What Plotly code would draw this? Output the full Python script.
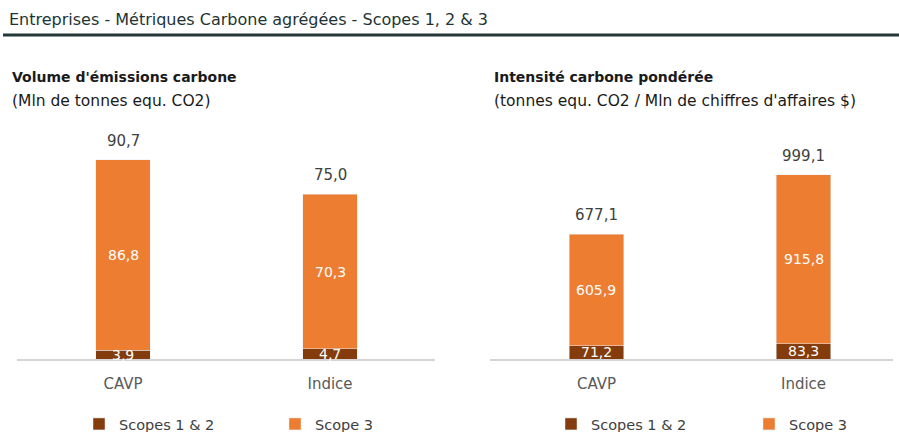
import plotly.graph_objects as go

# Aggregated carbon metrics, scopes 1, 2 & 3
categories = ["CAVP", "Indice"]

volume_scope12 = [3.9, 4.7]
volume_scope3 = [86.8, 70.3]
volume_total = [90.7, 75.0]

intensity_scope12 = [71.2, 83.3]
intensity_scope3 = [605.9, 915.8]
intensity_total = [677.1, 999.1]

ORANGE = "#ED7D31"
BROWN = "#843C0C"
W, H = 899, 432
FONT = "DejaVu Sans"


def py(px):
    """Pixel row (from top) to paper y."""
    return 1 - px / H


def px_x(px):
    return px / W


def fmt(v):
    return f"{v:.1f}".replace(".", ",")


fig = go.Figure()

panels = [
    ("x", "y", "legend", volume_scope12, volume_scope3, volume_total),
    ("x2", "y2", "legend2", intensity_scope12, intensity_scope3, intensity_total),
]

for xa, ya, leg, s12, s3, tot in panels:
    fig.add_trace(go.Bar(
        x=categories, y=s12, name="Scopes 1 & 2", marker_color=BROWN,
        width=0.265, xaxis=xa, yaxis=ya, legend=leg, hoverinfo="skip",
    ))
    fig.add_trace(go.Bar(
        x=categories, y=s3, name="Scope 3", marker_color=ORANGE,
        width=0.265, xaxis=xa, yaxis=ya, legend=leg, hoverinfo="skip",
    ))
    for c, a, b, t in zip(categories, s12, s3, tot):
        # scope 1 & 2 label inside the thin dark segment
        fig.add_annotation(x=c, y=a / 2, xref=xa, yref=ya, text=fmt(a),
                           showarrow=False, yanchor="middle",
                           font=dict(family=FONT, size=14, color="white"))
        # scope 3 label in the middle of the orange segment
        fig.add_annotation(x=c, y=a + b / 2, xref=xa, yref=ya, text=fmt(b),
                           showarrow=False, yanchor="middle",
                           font=dict(family=FONT, size=14, color="white"))
        # total above the bar
        fig.add_annotation(x=c, y=t, xref=xa, yref=ya, text=fmt(t),
                           showarrow=False, yanchor="bottom", yshift=8,
                           font=dict(family=FONT, size=15, color="#404040"))

y_dom = [py(359), py(120)]
axis_common = dict(
    showgrid=False, zeroline=False, showline=True, linecolor="#d4d4d4",
    linewidth=1.5, ticks="", ticklabelstandoff=10,
    tickfont=dict(family=FONT, size=15, color="#595959"),
    fixedrange=True,
)
yaxis_common = dict(showgrid=False, zeroline=False, showline=False,
                    showticklabels=False, fixedrange=True)
legend_common = dict(orientation="h", xanchor="left", yanchor="middle",
                     entrywidthmode="pixels", traceorder="normal",
                     itemclick=False, itemdoubleclick=False,
                     font=dict(family=FONT, size=14.5, color="#404040"),
                     bgcolor="rgba(0,0,0,0)")

fig.update_layout(
    width=W, height=H,
    margin=dict(l=0, r=0, t=0, b=0, autoexpand=False),
    paper_bgcolor="white", plot_bgcolor="white",
    barmode="stack", showlegend=True,
    xaxis=dict(domain=[px_x(17), px_x(435)], range=[-0.512, 1.507],
               anchor="y", **axis_common),
    yaxis=dict(domain=y_dom, range=[0, 239 / 2.195], anchor="x", **yaxis_common),
    xaxis2=dict(domain=[px_x(490), px_x(893)], range=[-0.514, 1.432],
                anchor="y2", **axis_common),
    yaxis2=dict(domain=y_dom, range=[0, 239 / 0.1845], anchor="x2", **yaxis_common),
    legend=dict(x=px_x(79), y=py(424), entrywidth=151, **legend_common),
    legend2=dict(x=px_x(551), y=py(424), entrywidth=153, **legend_common),
)

# Header and rule
fig.add_annotation(x=px_x(7), y=py(19), xref="paper", yref="paper",
                   text="Entreprises - Métriques Carbone agrégées - Scopes 1, 2 & 3",
                   showarrow=False, xanchor="left", yanchor="middle",
                   font=dict(family=FONT, size=16, color="#1e3434"))
fig.add_shape(type="line", xref="paper", yref="paper",
              x0=px_x(3), x1=1, y0=py(35), y1=py(35),
              line=dict(color="#243838", width=3))

# Panel titles
subtitles = [
    (10, "Volume d'émissions carbone", "(Mln de tonnes equ. CO2)"),
    (492, "Intensité carbone pondérée", "(tonnes equ. CO2 / Mln de chiffres d'affaires $)"),
]
for x0, t1, t2 in subtitles:
    fig.add_annotation(x=px_x(x0), y=py(77), xref="paper", yref="paper",
                       text=f"<b>{t1}</b>", showarrow=False, xanchor="left",
                       yanchor="middle", font=dict(family=FONT, size=14, color="#1a1a1a"))
    fig.add_annotation(x=px_x(x0), y=py(101), xref="paper", yref="paper",
                       text=t2, showarrow=False, xanchor="left", yanchor="middle",
                       font=dict(family=FONT, size=15.5, color="#1a1a1a"))

fig.write_html("out.html")
